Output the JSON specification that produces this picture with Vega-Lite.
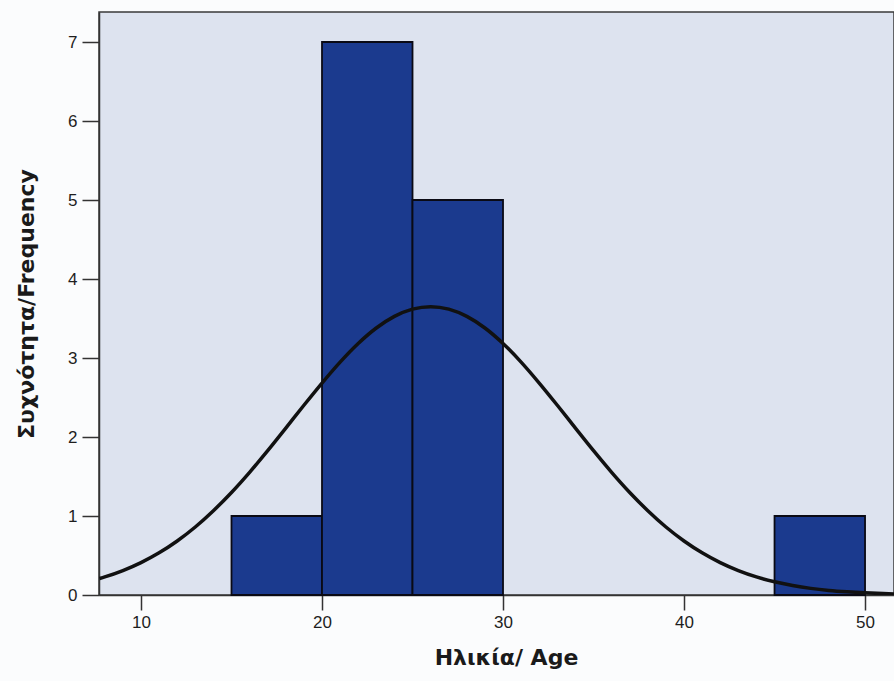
{
  "$schema": "https://vega.github.io/schema/vega-lite/v6.json",
  "width": 795,
  "height": 583,
  "autosize": {"type": "none"},
  "padding": {"left": 99, "top": 12, "right": 0, "bottom": 86},
  "background": "#fbfcfd",
  "config": {
    "font": "Liberation Sans",
    "view": {"fill": "#dde3ef", "stroke": "#3a3a3a", "strokeWidth": 1.5}
  },
  "datasets": {
    "bins": [
      {"start": 15, "end": 20, "count": 1},
      {"start": 20, "end": 25, "count": 7},
      {"start": 25, "end": 30, "count": 5},
      {"start": 45, "end": 50, "count": 1}
    ],
    "curve": [
      {"age": 7.7, "freq": 0.209}, {"age": 8, "freq": 0.229}, {"age": 9, "freq": 0.309},
      {"age": 10, "freq": 0.41}, {"age": 11, "freq": 0.534}, {"age": 12, "freq": 0.684},
      {"age": 13, "freq": 0.861}, {"age": 14, "freq": 1.067}, {"age": 15, "freq": 1.298},
      {"age": 16, "freq": 1.553}, {"age": 17, "freq": 1.827}, {"age": 18, "freq": 2.113},
      {"age": 19, "freq": 2.402}, {"age": 20, "freq": 2.683}, {"age": 21, "freq": 2.948},
      {"age": 22, "freq": 3.184}, {"age": 23, "freq": 3.38}, {"age": 24, "freq": 3.527},
      {"age": 25, "freq": 3.619}, {"age": 26, "freq": 3.65}, {"age": 27, "freq": 3.619},
      {"age": 28, "freq": 3.527}, {"age": 29, "freq": 3.38}, {"age": 30, "freq": 3.184},
      {"age": 31, "freq": 2.948}, {"age": 32, "freq": 2.683}, {"age": 33, "freq": 2.402},
      {"age": 34, "freq": 2.113}, {"age": 35, "freq": 1.827}, {"age": 36, "freq": 1.553},
      {"age": 37, "freq": 1.298}, {"age": 38, "freq": 1.067}, {"age": 39, "freq": 0.861},
      {"age": 40, "freq": 0.684}, {"age": 41, "freq": 0.534}, {"age": 42, "freq": 0.41},
      {"age": 43, "freq": 0.309}, {"age": 44, "freq": 0.229}, {"age": 45, "freq": 0.167},
      {"age": 46, "freq": 0.12}, {"age": 47, "freq": 0.084}, {"age": 48, "freq": 0.058},
      {"age": 49, "freq": 0.04}, {"age": 50, "freq": 0.027}, {"age": 51, "freq": 0.018},
      {"age": 51.6, "freq": 0.0135}
    ]
  },
  "layer": [
    {
      "data": {"name": "bins"},
      "mark": {"type": "rect", "fill": "#1b3a8e", "stroke": "#0a0a14", "strokeWidth": 1.8},
      "encoding": {
        "x": {
          "field": "start", "type": "quantitative",
          "scale": {"domain": [7.68, 51.6], "nice": false, "zero": false},
          "axis": {
            "title": "Ηλικία/ Age",
            "titleX": 407,
            "values": [10, 20, 30, 40, 50],
            "format": "d",
            "grid": false,
            "domainColor": "#333333", "domainWidth": 1.5,
            "tickColor": "#333333", "tickWidth": 1.5, "tickSize": 15,
            "labelFont": "Liberation Sans", "labelFontSize": 17, "labelColor": "#1e1e1e", "labelPadding": 4,
            "titleFont": "DejaVu Sans", "titleFontSize": 22, "titleFontWeight": "bold", "titleColor": "#1a1a1a",
            "titlePadding": 17
          }
        },
        "x2": {"field": "end"},
        "y": {
          "field": "count", "type": "quantitative",
          "scale": {"domain": [0, 7.38], "nice": false},
          "axis": {
            "title": "Συχνότητα/Frequency",
            "values": [0, 1, 2, 3, 4, 5, 6, 7],
            "format": "d",
            "grid": false,
            "domainColor": "#333333", "domainWidth": 1.5,
            "tickColor": "#333333", "tickWidth": 1.5, "tickSize": 17,
            "labelFont": "Liberation Sans", "labelFontSize": 17, "labelColor": "#1e1e1e", "labelPadding": 5,
            "titleFont": "DejaVu Sans", "titleFontSize": 22, "titleFontWeight": "bold", "titleColor": "#1a1a1a",
            "titlePadding": 29
          }
        },
        "y2": {"datum": 0}
      }
    },
    {
      "data": {"name": "curve"},
      "mark": {"type": "line", "color": "#111111", "strokeWidth": 3.5, "interpolate": "monotone", "clip": true},
      "encoding": {
        "x": {"field": "age", "type": "quantitative"},
        "y": {"field": "freq", "type": "quantitative"}
      }
    }
  ]
}
